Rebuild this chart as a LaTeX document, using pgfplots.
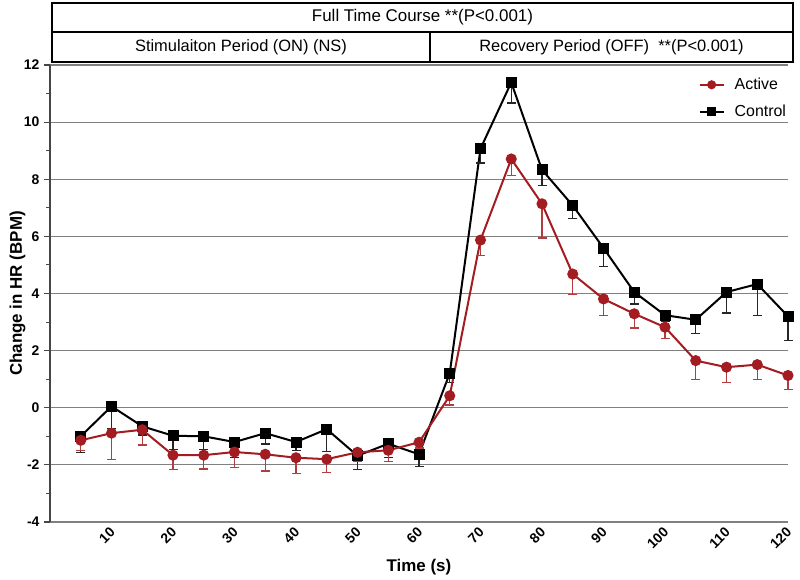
\documentclass[border=0pt]{standalone}
\usepackage{pgfplots}
\pgfplotsset{compat=1.18}
\usepackage{pgfplotstable}
\usepackage{fontspec}
\setmainfont{Liberation Sans}
\definecolor{actred}{RGB}{163,28,34}
\definecolor{actredlt}{RGB}{178,60,62}
\definecolor{gridgray}{RGB}{128,128,128}
\pgfplotstableread{
t c ce
5 -1.00 0.56
10 0.05 0.77
15 -0.65 0.30
20 -0.98 0.49
25 -1.00 0.47
30 -1.20 0.53
35 -0.89 0.38
40 -1.20 0.30
45 -0.75 0.79
50 -1.68 0.47
55 -1.26 0.48
60 -1.63 0.43
65 1.21 0.32
70 9.07 0.50
75 11.39 0.72
80 8.33 0.55
85 7.08 0.46
90 5.59 0.64
95 4.05 0.42
100 3.24 0.22
105 3.08 0.47
110 4.05 0.73
115 4.33 1.09
120 3.20 0.85
}\controldata
\pgfplotstableread{
t a ae
5 -1.14 0.36
10 -0.89 0.91
15 -0.77 0.53
20 -1.66 0.49
25 -1.66 0.48
30 -1.55 0.54
35 -1.63 0.58
40 -1.75 0.56
45 -1.80 0.46
50 -1.56 0.33
55 -1.49 0.40
60 -1.21 0.20
65 0.42 0.32
70 5.87 0.55
75 8.71 0.58
80 7.14 1.20
85 4.68 0.72
90 3.81 0.59
95 3.29 0.50
100 2.82 0.39
105 1.65 0.67
110 1.42 0.53
115 1.51 0.53
120 1.13 0.50
}\activedata
\begin{document}
\begin{tikzpicture}
\useasboundingbox (-50bp,-58bp) rectangle (750bp,522bp);
\begin{axis}[
  at={(0,0)}, anchor=south west,
  scale only axis, width=738bp, height=457bp,
  xmin=0, xmax=120, ymin=-4, ymax=12,
  clip=false,
  axis lines=left,
  x axis line style={-, draw=gridgray, line width=1.1bp},
  y axis line style={-, draw=gridgray!55!black, line width=1.2bp},
  xtick={10,20,...,120},
  ytick={-4,-2,...,12},
  minor y tick num=1,
  tick align=outside,
  xtick style={draw=none},
  ytick style={draw=gridgray!55!black, line width=1.1bp},
  major tick length=6bp, minor tick length=4bp,
  ymajorgrids,
  grid style={draw=gridgray, line width=1.1bp},
  /pgf/number format/assume math mode=true,
  yticklabel style={font=\fontsize{14}{16}\selectfont\bfseries, xshift=-1bp},
  xticklabel style={font=\fontsize{14}{16}\selectfont\bfseries, rotate=45, anchor=east, xshift=3bp, yshift=-2bp},
  xlabel={Time (s)},
  ylabel={Change in HR (BPM)},
  xlabel style={font=\fontsize{17}{19}\selectfont\bfseries, at={(axis description cs:0.5,-0.0985)}, anchor=center},
  ylabel style={font=\fontsize{17}{19}\selectfont\bfseries, at={(axis description cs:-0.044,0.5)}, anchor=center, rotate=0},
  reverse legend,
  legend style={draw=none, fill=none, font=\fontsize{16}{18}\selectfont, at={(1.003,0.978)}, anchor=north east, row sep=12bp,
    nodes={inner sep=1bp}},
  legend cell align=left,
  legend image code/.code={\draw[mark repeat=2,mark phase=2, mark size=3.5bp] plot coordinates {(-24bp,0bp) (-12bp,0bp) (0bp,0bp)}; \path (9bp,0bp);},
]
\addplot[black, line width=2bp, mark=square*, mark size=4.5bp, mark options={solid},
  error bars/.cd, y dir=minus, y explicit,
  error bar style={line width=1.3bp, black!85},
  error mark options={line width=1.3bp, black!85, mark size=4.5bp, rotate=90}]
  table[x=t, y=c, y error=ce] {\controldata};
\addlegendentry{Control}
\addplot[actred, line width=2bp, mark=*, mark size=4.5bp, mark options={solid},
  error bars/.cd, y dir=minus, y explicit,
  error bar style={line width=1.3bp, actredlt},
  error mark options={line width=1.3bp, actredlt, mark size=4.5bp, rotate=90}]
  table[x=t, y=a, y error=ae] {\activedata};
\addlegendentry{Active}
\end{axis}
\draw[line width=2.4bp, black] (2bp,460bp) rectangle (743bp,519bp);
\draw[line width=2.4bp, black] (2bp,490bp) -- (743bp,490bp);
\draw[line width=2.4bp, black] (380bp,460bp) -- (380bp,490bp);
\node[font=\fontsize{17}{19}\selectfont] at (372.5bp,504.5bp) {Full Time Course **(P<0.001)};
\node[font=\fontsize{16.5}{18}\selectfont] at (191bp,475bp) {Stimulaiton Period (ON) (NS)};
\node[font=\fontsize{16.5}{18}\selectfont] at (561.5bp,475bp) {Recovery Period (OFF)\ \ **(P<0.001)};
\end{tikzpicture}
\end{document}
